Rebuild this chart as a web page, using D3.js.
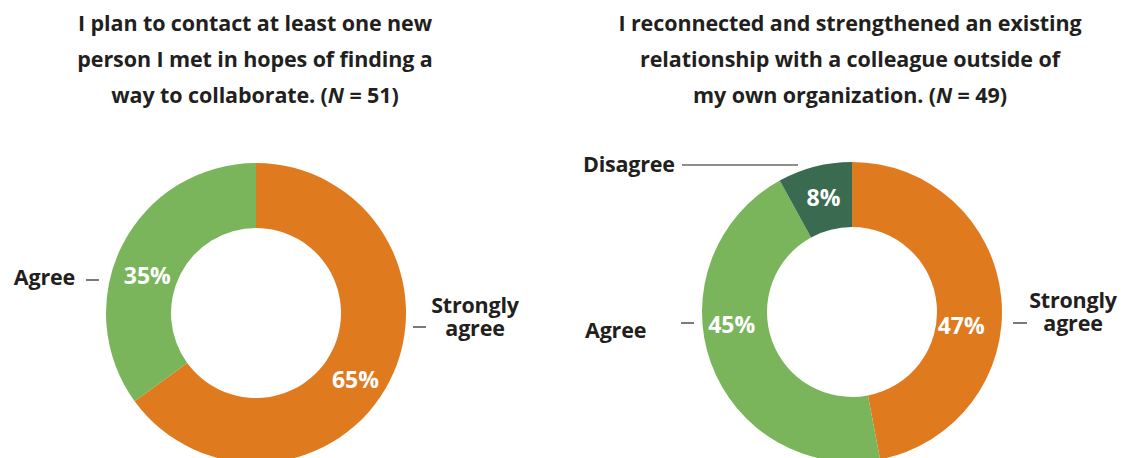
<!DOCTYPE html>
<html>
<head>
<meta charset="utf-8">
<script src="https://cdn.jsdelivr.net/npm/d3@7"></script>
<style>
  body { margin: 0; background: #fff; }
  svg text { font-family: "Open Sans", Roboto, sans-serif; font-weight: bold; }
</style>
</head>
<body>
<div id="plot"></div>
<script>
// chart data
const titlesLeft = ["I plan to contact at least one new", "person I met in hopes of finding a", "way to collaborate. (N = 51)"];
const titlesRight = ["I reconnected and strengthened an existing", "relationship with a colleague outside of", "my own organization. (N = 49)"];
const categoriesLeft = ["Strongly agree", "Agree"];
const valuesLeft = [65, 35];
const categoriesRight = ["Strongly agree", "Agree", "Disagree"];
const valuesRight = [47, 45, 8];

const color = d3.scaleOrdinal()
  .domain(["Strongly agree", "Agree", "Disagree"])
  .range(["#e07a1f", "#7ab55c", "#3a6b51"]);

const width = 1133, height = 458;
const svg = d3.select("#plot").append("svg")
  .attr("width", width)
  .attr("height", height);

// layout for each donut (label angles in degrees clockwise from top)
const charts = [
  {
    titles: titlesLeft, cats: categoriesLeft, vals: valuesLeft,
    cx: 256, cy: 313, titleX: 255,
    pct: { "Strongly agree": [124, 120], "Agree": [289, 115] },
    names: {
      "Agree": { x: 75, y: 285, anchor: "end", dash: [86, 99, 280] },
      "Strongly agree": { x: 475, y: 313, anchor: "middle", dash: [413, 426, 327] }
    }
  },
  {
    titles: titlesRight, cats: categoriesRight, vals: valuesRight,
    cx: 852, cy: 312, titleX: 850,
    pct: { "Strongly agree": [97, 110], "Agree": [264, 121], "Disagree": [346, 118] },
    names: {
      "Disagree": { x: 583, y: 172, anchor: "start", dash: [682, 798, 165] },
      "Agree": { x: 585, y: 338, anchor: "start", dash: [681, 694, 323] },
      "Strongly agree": { x: 1073, y: 308, anchor: "middle", dash: [1013, 1027, 323] }
    }
  }
];

const outerR = 150, innerR = 85;
const arc = d3.arc().innerRadius(innerR).outerRadius(outerR);
const pie = d3.pie().sort(null).value(d => d.value);

charts.forEach(c => {
  // title
  const title = svg.append("text")
    .attr("text-anchor", "middle")
    .attr("font-size", "21.5px")
    .attr("letter-spacing", "-0.1px")
    .attr("fill", "#231f20");
  c.titles.forEach((line, i) => {
    const t = title.append("tspan")
      .attr("x", c.titleX)
      .attr("y", 31 + i * 36);
    if (line.includes("(N")) {
      const parts = line.split("N");
      t.append("tspan").text(parts[0]);
      t.append("tspan").attr("font-style", "italic").text("N");
      t.append("tspan").text(parts[1]);
    } else {
      t.text(line);
    }
  });

  const rows = c.cats.map((k, i) => ({ key: k, value: c.vals[i] }));
  const g = svg.append("g").attr("transform", `translate(${c.cx},${c.cy})`);

  g.selectAll("path")
    .data(pie(rows))
    .enter().append("path")
      .attr("d", arc)
      .attr("fill", d => color(d.data.key));

  // percent labels
  g.selectAll(".pct")
    .data(rows)
    .enter().append("text")
      .attr("class", "pct")
      .attr("text-anchor", "middle")
      .attr("dy", "0.36em")
      .attr("font-size", "23px")
      .attr("fill", "#fff")
      .attr("x", d => Math.sin(c.pct[d.key][0] * Math.PI / 180) * c.pct[d.key][1])
      .attr("y", d => -Math.cos(c.pct[d.key][0] * Math.PI / 180) * c.pct[d.key][1])
      .text(d => d.value + "%");

  // category labels with leader dashes
  rows.forEach(d => {
    const n = c.names[d.key];
    const lab = svg.append("text")
      .attr("text-anchor", n.anchor)
      .attr("font-size", "21.5px")
      .attr("letter-spacing", "-0.2px")
      .attr("fill", "#231f20");
    if (d.key === "Strongly agree") {
      lab.append("tspan").attr("x", n.x).attr("y", n.y).text("Strongly");
      lab.append("tspan").attr("x", n.x).attr("y", n.y + 23).text("agree");
    } else {
      lab.attr("x", n.x).attr("y", n.y).text(d.key);
    }
    svg.append("line")
      .attr("x1", n.dash[0]).attr("x2", n.dash[1])
      .attr("y1", n.dash[2]).attr("y2", n.dash[2])
      .attr("stroke", "#231f20")
      .attr("stroke-width", 1.2);
  });
});
</script>
</body>
</html>
